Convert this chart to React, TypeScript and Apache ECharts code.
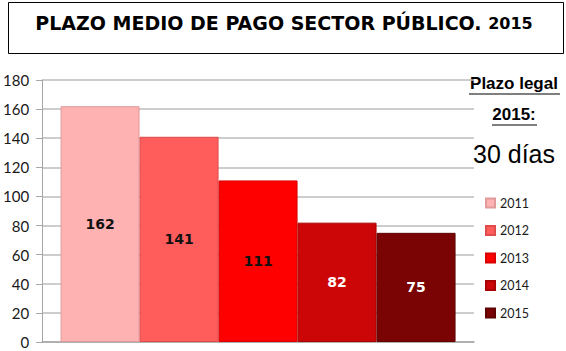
import React, { useEffect, useRef } from "react";
import * as echarts from "echarts";

const years = ["2011", "2012", "2013", "2014", "2015"];
const values = [162, 141, 111, 82, 75];
const colors = ["#FFB2B2", "#FF5C5C", "#FF0000", "#CC0606", "#7A0404"];
const borders = ["#E09A9A", "#E04C4C", "#D80000", "#A80404", "#5E0202"];
const labelColors = ["#111111", "#111111", "#111111", "#FFFFFF", "#FFFFFF"];
const yTicks = { min: 0, max: 180, interval: 20 };

export default function App() {
  const ref = useRef<HTMLDivElement>(null);
  useEffect(() => {
    if (!ref.current) return;
    const chart = echarts.init(ref.current, undefined, { renderer: "svg" });
    chart.setOption({
      animation: false,
      backgroundColor: "#ffffff",
      grid: { left: 42, right: 92, top: 80, bottom: 9, containLabel: false },
      xAxis: {
        type: "category",
        data: ["2015"],
        axisLabel: { show: false },
        axisTick: { show: false },
        axisLine: { lineStyle: { color: "#A6A6A6", width: 1.5 } },
      },
      yAxis: {
        type: "value",
        min: yTicks.min,
        max: yTicks.max,
        interval: yTicks.interval,
        axisLine: { show: true, lineStyle: { color: "#A6A6A6" } },
        axisTick: { show: true, length: 6, lineStyle: { color: "#A6A6A6" } },
        axisLabel: { margin: 13, fontFamily: "Lato", fontSize: 15, color: "#1a1a1a" },
        splitLine: { lineStyle: { color: "#BDBDBD", width: 1.5 } },
      },
      legend: {
        orient: "vertical",
        left: 480,
        top: 191,
        itemWidth: 9,
        itemHeight: 9,
        itemGap: 13.5,
        icon: "rect",
        data: years,
        textStyle: { fontFamily: "Lato", fontSize: 12.5, color: "#1a1a1a", lineHeight: 14 },
      },
      series: years.map((y, i) => ({
        name: y,
        type: "bar",
        data: [values[i]],
        barWidth: 79,
        barGap: "0%",
        itemStyle: { color: colors[i], borderColor: borders[i], borderWidth: 1 },
        label: {
          show: true,
          position: "inside",
          fontFamily: "DejaVu Sans",
          fontWeight: "bold",
          fontSize: 14,
          color: labelColors[i],
        },
      })),
      graphic: [
        {
          type: "rect",
          shape: { x: 8.5, y: 2.5, width: 555, height: 51 },
          style: { fill: "none", stroke: "#000", lineWidth: 1 },
        },
        {
          type: "text",
          x: 284,
          y: 23,
          style: {
            text: "{a|PLAZO MEDIO DE PAGO SECTOR PÚBLICO.}{s| }{b|2015}",
            align: "center",
            verticalAlign: "middle",
            rich: {
              a: { fontFamily: "DejaVu Sans", fontWeight: "bold", fontSize: 19, fill: "#000" },
              s: { fontFamily: "DejaVu Sans", fontWeight: "bold", fontSize: 19, fill: "#000" },
              b: { fontFamily: "DejaVu Sans", fontWeight: "bold", fontSize: 16, fill: "#000" },
            },
          },
        },
        {
          type: "text",
          x: 514,
          y: 92,
          style: {
            text: "Plazo legal",
            align: "center",
            verticalAlign: "bottom",
            fontFamily: "Liberation Sans",
            fontWeight: "bold",
            fontSize: 17,
            fill: "#000",
          },
        },
        { type: "line", shape: { x1: 469, y1: 94, x2: 560, y2: 94 }, style: { stroke: "#000", lineWidth: 1.2 } },
        {
          type: "text",
          x: 514,
          y: 123,
          style: {
            text: "2015:",
            align: "center",
            verticalAlign: "bottom",
            fontFamily: "Liberation Sans",
            fontWeight: "bold",
            fontSize: 17,
            fill: "#000",
          },
        },
        { type: "line", shape: { x1: 492, y1: 125, x2: 537, y2: 125 }, style: { stroke: "#000", lineWidth: 1.2 } },
        {
          type: "text",
          x: 514,
          y: 166,
          style: {
            text: "30 días",
            align: "center",
            verticalAlign: "bottom",
            fontFamily: "Liberation Sans",
            fontSize: 25,
            fill: "#000",
          },
        },
      ],
    });
    return () => chart.dispose();
  }, []);
  return <div ref={ref} style={{ width: 566, height: 351, position: "absolute", left: 0, top: 0 }} />;
}
